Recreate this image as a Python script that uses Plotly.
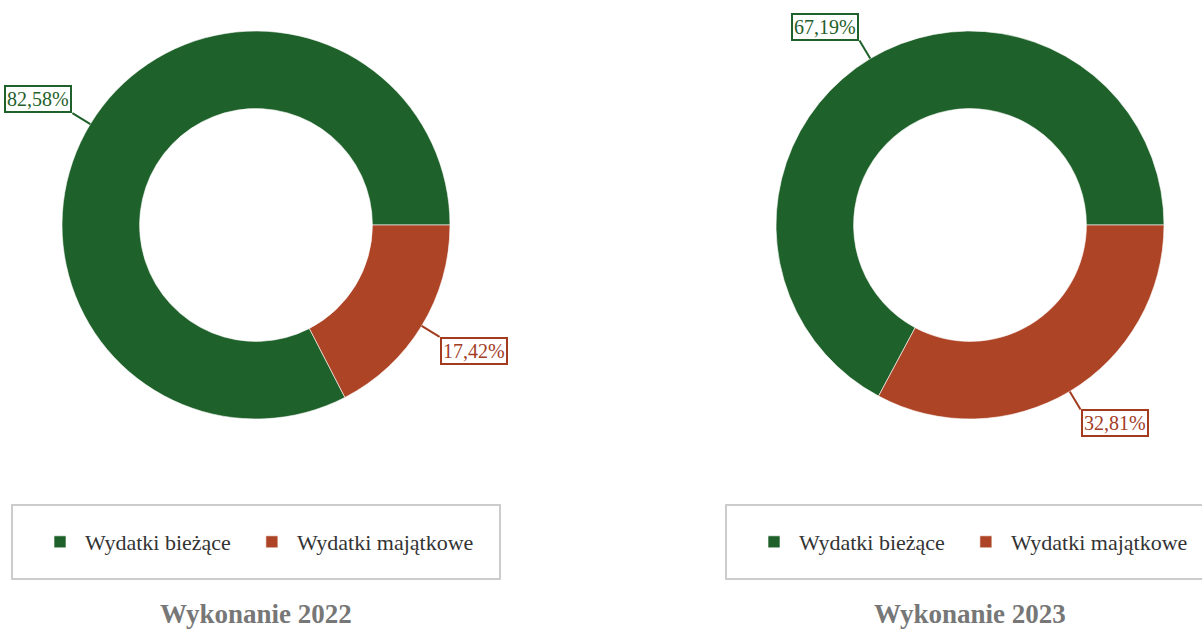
import math
import plotly.graph_objects as go

categories = ["Wydatki bieżące", "Wydatki majątkowe"]
values_2022 = [82.58, 17.42]
values_2023 = [67.19, 32.81]
titles = ["Wykonanie 2022", "Wykonanie 2023"]
colors = ["#1f612a", "#ad4426"]
text_colors = ["#1f612a", "#a33c1f"]

W, H = 1202, 630
R = 194
centers = [(256, 225), (970, 225)]

fig = go.Figure()
annotations = []
shapes = []

def fmt(v):
    return f"{v:.2f}".replace(".", ",") + "%"

for i, (vals, title, (cx, cy)) in enumerate(zip([values_2022, values_2023], titles, centers)):
    legend_name = "legend" if i == 0 else "legend2"
    total = sum(vals)
    suffix = "" if i == 0 else "\u200b"
    # pad first legend entry (non-breaking spaces) to match the reference spacing
    labels = [categories[0] + "\u00a0\u00a0" + suffix] + [c + suffix for c in categories[1:]]
    fig.add_trace(go.Pie(
        labels=labels, values=vals, hole=0.6, sort=False,
        direction="clockwise", rotation=90 - 360 * vals[0] / total,
        marker=dict(colors=colors, line=dict(color="rgba(255,255,255,0.6)", width=1)),
        textinfo="none", hoverinfo="label+percent",
        domain=dict(x=[(cx - R) / W, (cx + R) / W], y=[1 - (cy + R) / H, 1 - (cy - R) / H]),
        legend=legend_name, showlegend=True,
    ))
    cum = 0.0
    for j, v in enumerate(vals):
        a = math.radians((cum + v / 2) / total * 360)
        cum += v
        ex = cx + R * math.cos(a)
        ey = cy - R * math.sin(a)
        L = 21
        annotations.append(dict(
            x=ex / W, y=1 - ey / H, xref="paper", yref="paper",
            text=fmt(v), showarrow=True, arrowhead=0, arrowwidth=2,
            arrowcolor=text_colors[j], standoff=0,
            ax=L * math.cos(a), ay=-L * math.sin(a),
            xanchor="right" if math.cos(a) < 0 else "left",
            yanchor="bottom" if math.sin(a) > 0 else "top",
            font=dict(family="Liberation Serif", size=20, color=text_colors[j]),
            bordercolor=text_colors[j], borderwidth=2, borderpad=1, bgcolor="white",
        ))
    # legend box
    x0, x1 = cx - 244, cx + 244
    shapes.append(dict(type="rect", xref="paper", yref="paper",
                       x0=x0 / W, x1=x1 / W, y0=1 - 579 / H, y1=1 - 505 / H,
                       line=dict(color="#cccccc", width=2), fillcolor="rgba(0,0,0,0)", layer="below"))
    annotations.append(dict(
        x=cx / W, y=1 - 614 / H, xref="paper", yref="paper", text=f"<b>{title}</b>",
        showarrow=False, xanchor="center", yanchor="middle",
        font=dict(family="Liberation Serif", size=27, color="#777777"),
    ))

legend_common = dict(
    orientation="h", xanchor="left", yanchor="middle",
    font=dict(family="Liberation Serif", size=22, color="#333333"),
    bgcolor="rgba(0,0,0,0)", borderwidth=0, itemwidth=40,
)
fig.update_layout(
    width=W, height=H, margin=dict(l=0, r=0, t=0, b=0),
    paper_bgcolor="white", plot_bgcolor="white",
    legend=dict(x=35 / W, y=1 - 542 / H, **legend_common),
    legend2=dict(x=(35 + 714) / W, y=1 - 542 / H, **legend_common),
    annotations=annotations, shapes=shapes,
)
fig.write_html("out.html", config={"displayModeBar": False},
               post_script="document.body.style.margin='0px';")
